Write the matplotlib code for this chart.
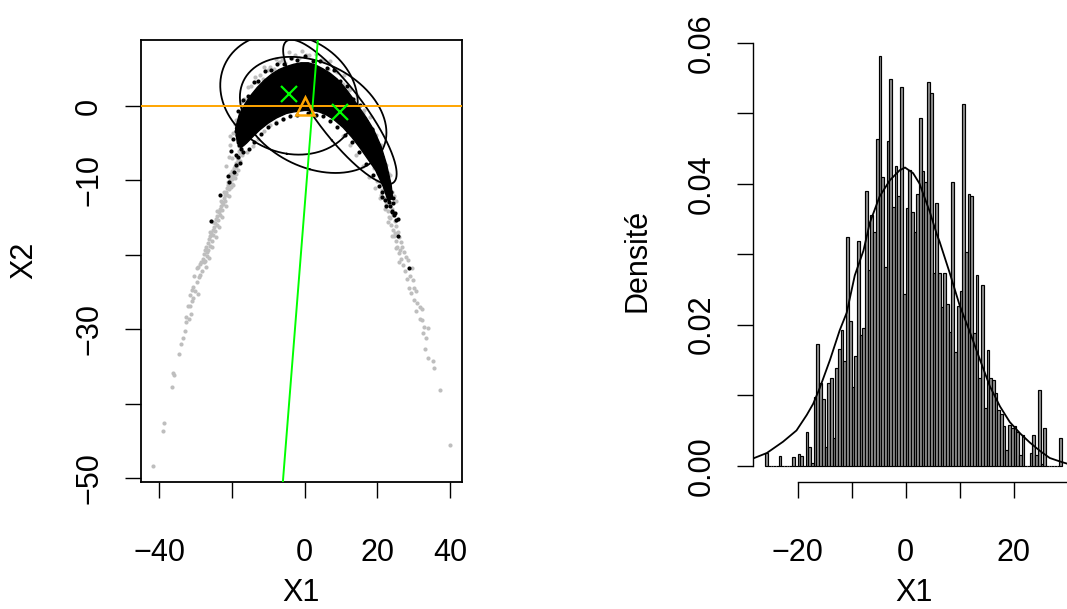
import numpy as np
import matplotlib
matplotlib.use('Agg')
import matplotlib.pyplot as plt

plt.rcParams['font.family'] = ['Liberation Sans', 'DejaVu Sans']
plt.rcParams['axes.unicode_minus'] = True

# ---- banana sample: grey = full chain, black = retained draws ----
# left arm
gray_x1 = [-18.5, -19.0, -19.3, -19.8, -20.2, -20.6, -20.4, -21.0, -21.3, -21.6, -21.2, -22.0, -22.3,
           -22.6, -22.1, -23.0, -23.3, -23.6, -23.1, -24.0, -24.3, -24.6, -24.1, -25.0, -25.3, -25.7,
           -25.2, -26.0, -26.3, -26.6, -26.1, -27.0, -27.3, -26.8, -27.6, -28.0, -27.8, -28.4, -28.8,
           -29.2, -29.7, -30.3, -28.8, -30.6, -31.1, -31.5, -30.8, -32.2, -31.5, -32.5, -31.3, -32.7,
           -33.4, -36.3, -35.8, -36.6, -38.7, -39.0, -41.8,
           -17.0, -17.4, -17.8, -18.2, -18.6, -17.6, -18.0, -18.9, -19.5, -19.9, -20.1, -19.2, -18.4,
           -16.6, -17.1, -16.9, -17.6, -17.3, -18.1, -18.4, -17.9, -18.7, -19.2, -18.9, -19.6, -20.0,
           -20.3, -19.8, -20.8, -21.4, -20.9, -21.8, -22.4, -21.7, -22.8, -23.2, -22.6, -23.8, -24.2,
           -23.6, -24.7, -25.1, -24.5, -25.6, -25.9, -25.4, -26.5, -26.9, -26.2, -27.4, -27.1, -28.2,
           -29.0, -29.6, -30.1, -29.4, -30.9, -31.8, -32.9, -33.9, -34.6,
           -19.6, -20.4, -19.1, -20.9, -21.6, -19.9, -20.6, -18.8]
gray_x2 = [-6.8, -7.6, -8.3, -8.9, -9.6, -10.0, -9.2, -10.6, -11.0, -11.5, -10.2, -12.0, -12.4,
           -12.9, -11.6, -13.4, -13.8, -14.3, -12.8, -14.8, -15.2, -15.7, -14.1, -16.2, -16.6, -17.0,
           -15.6, -17.4, -17.9, -18.4, -16.9, -18.9, -19.3, -19.6, -19.9, -20.5, -21.0, -21.0, -21.2,
           -21.6, -21.8, -22.9, -22.7, -24.3, -24.7, -25.4, -25.8, -26.9, -26.9, -28.3, -27.9, -29.0,
           -31.1, -35.9, -36.1, -37.7, -42.6, -43.6, -48.3,
           -5.0, -5.6, -6.3, -7.0, -7.6, -4.8, -5.4, -8.2, -9.0, -9.8, -10.5, -9.7, -8.6,
           -3.9, -4.3, -5.1, -5.9, -6.6, -6.1, -7.2, -7.4, -7.9, -8.0, -9.1, -9.4, -8.7,
           -10.9, -10.6, -11.2, -11.9, -12.1, -12.7, -13.2, -13.5, -14.0, -14.6, -14.9, -15.3, -16.0,
           -16.2, -16.8, -17.3, -17.6, -18.1, -18.8, -19.0, -19.4, -20.2, -20.4, -20.8, -21.6, -22.1,
           -23.0, -23.6, -24.9, -25.3, -26.2, -28.6, -30.2, -32.0, -33.3,
           -3.6, -5.3, -2.4, -6.8, -8.1, -7.0, -4.1, -1.9]
# right arm
gray_x1 += [20.5, 21.0, 21.5, 22.0, 22.5, 23.0, 22.3, 23.5, 23.9, 24.3, 23.6, 24.8, 25.2, 25.6, 24.9,
            26.0, 26.4, 26.9, 26.2, 27.4, 27.8, 28.5, 29.4, 29.1, 29.9, 30.0, 30.6, 31.7, 32.4, 32.2,
            32.8, 34.0, 33.3, 34.0, 35.4, 35.5, 37.2, 39.9,
            17.5, 18.0, 18.6, 19.2, 19.0, 19.8, 20.2, 20.0, 20.9, 21.4, 21.0, 21.9, 22.4, 22.0, 22.9,
            23.3, 22.9, 23.8, 24.2, 24.0, 24.7, 25.1, 25.5, 25.0, 26.0, 26.5, 26.0, 27.0, 27.5, 28.2,
            28.6, 29.3, 30.0, 31.0, 30.5, 31.6, 32.5, 33.2]
gray_x2 += [-8.4, -9.3, -10.0, -10.8, -11.6, -12.3, -12.9, -13.1, -13.8, -14.6, -15.0, -15.4, -16.1,
            -16.9, -17.0, -17.6, -18.3, -19.0, -19.4, -19.6, -20.3, -20.7, -21.8, -22.9, -23.4, -24.5,
            -24.9, -27.0, -27.3, -28.7, -29.7, -29.8, -31.2, -33.8, -34.3, -35.2, -38.2, -45.5,
            -5.2, -6.0, -6.7, -7.4, -8.3, -8.2, -9.0, -10.1, -10.4, -11.3, -12.0, -12.4, -13.3, -13.8,
            -14.1, -14.9, -15.6, -16.0, -16.6, -17.5, -17.4, -18.2, -19.0, -19.1, -19.8, -20.6, -20.9,
            -21.4, -22.2, -23.2, -24.4, -25.1, -26.0, -26.4, -27.6, -28.6, -30.5, -32.6]
# halo round the dense core
gray_x1 += [-17.5, -16.8, -15.6, -14.8, -13.6, -12.4, -11.2, -9.6, -8.0, -6.2, -4.4, -2.6, -0.8, 1.2,
            3.2, 5.2, 7.0, 9.0, 10.8, 12.6, 14.4, 16.2, 17.9, 19.6, 21.0, 22.4, 23.6, 24.6, 25.0,
            -18.6, -15.8, -14.2, -12.8, -11.2, -9.6, -8.0, -6.0, 10.6, 12.4, 14.2, 16.0, 17.8, 19.4,
            20.6, -16.5, -15.5, -14.2, -13.0, -11.5, -10.0, -8.5, -7.0, -5.5, -3.5, -1.5, 0.5, 2.5,
            4.5, 6.5, 8.5, 10.5, 12.3, 14.2, 16.0, 17.8, 19.6, 21.3, 22.8, 24.0]
gray_x2 += [0.6, 1.0, 2.6, 2.7, 3.9, 4.1, 5.3, 5.3, 6.3, 6.2, 7.2, 6.8, 7.4, 6.9,
            7.0, 6.1, 6.1, 4.6, 4.2, 2.3, 1.5, -0.6, -1.5, -3.9, -5.3, -7.9, -9.3, -12.1, -12.7,
            -4.2, -6.2, -5.4, -4.4, -3.4, -2.6, -2.2, -1.8, -4.0, -5.3, -6.6, -8.0, -9.6, -11.0,
            -12.4, -0.3, 1.1, 1.6, 3.2, 3.6, 4.8, 5.0, 5.9, 5.8, 6.5, 6.4, 6.8, 6.1,
            6.2, 5.0, 4.7, 2.9, 2.1, -0.1, -0.9, -3.2, -4.7, -7.5, -9.0, -11.5]

black_x1 = [-20.8, -23.3, -25.8, -18.3, -19.0, -17.5, -18.8, -17.9,
            21.2, 21.2, 23.4, 23.9, 24.8, 25.7, 25.7, 28.8, 22.6, 23.0, 24.2,
            22.5, 24.0, 24.6, 25.1,
            -18.2, -17.0, -15.6, -14.0, -12.8, -11.0, -9.2, -7.6, -5.8, -3.8, -2.0, 0.0, 2.2, 4.2,
            6.2, 8.0, 9.8, 11.6, 13.4, 15.2, 16.8, 18.4, 20.0, 21.4, 22.6, 23.8, 23.2, 24.4,
            -19.0, -18.0, -17.0, -15.4, -14.0, -12.0, -10.0, -8.0, -6.0, -4.0, -2.0, 1.0, 3.0, 5.0,
            7.0, 9.0, 11.0, 13.0, 15.0, 17.0, 18.8, 20.4, 22.0,
            -19.8, -20.3, -19.4, -21.1, -18.6]
black_x2 = [-10.2, -12.0, -15.5, -6.9, -7.9, -5.8, -6.6, -7.7,
            -11.5, -12.2, -13.5, -14.2, -14.4, -15.2, -17.5, -21.7, -10.9, -12.0, -13.0,
            -13.4, -14.1, -14.7, -15.3,
            -0.7, 0.8, 1.3, 3.2, 3.4, 4.7, 4.8, 5.7, 5.7, 6.4, 6.2, 6.7, 6.1, 6.1,
            5.1, 4.8, 3.4, 2.7, 0.9, 0.1, -2.0, -3.1, -5.4, -6.9, -9.6, -11.5, -12.9, -12.4,
            -3.3, -5.2, -6.2, -5.8, -4.9, -3.8, -2.8, -2.3, -1.7, -1.4, -1.2, -1.0, -1.2, -1.4,
            -2.0, -2.8, -3.9, -4.8, -6.2, -7.8, -9.3, -10.8, -12.6,
            -4.4, -6.1, -8.9, -9.4, -3.9]

# outline of the solid black core of the retained draws
core_x1 = [-19.0, -18.0, -16.5, -15.0, -13.0, -11.0, -9.0, -7.0, -5.0, -3.0, -1.0, 1.0, 3.0, 5.0,
           7.0, 9.0, 11.0, 13.0, 15.0, 17.0, 19.0, 21.0, 22.5, 23.8, 24.2,
           23.0, 21.6, 19.5, 17.5, 15.2, 13.0, 10.6, 8.0, 6.0, 4.0, 2.0, 0.0, -3.0, -5.0, -7.7,
           -10.0, -12.3, -14.0, -16.0, -17.5, -18.5]
core_x2 = [-3.0, -1.2, 0.2, 1.3, 2.5, 3.5, 4.3, 4.9, 5.3, 5.6, 5.8, 5.8, 5.5, 5.0,
           4.4, 3.6, 2.5, 1.2, -0.2, -1.6, -3.2, -5.4, -7.8, -10.6, -12.4,
           -12.8, -10.8, -8.6, -7.2, -5.6, -4.2, -2.9, -1.8, -1.2, -0.8, -0.6, -0.6, -0.8, -1.0, -1.6,
           -2.3, -3.2, -4.0, -5.0, -5.6, -5.0]

# component ellipses (two local components and the overall one)
centres = [(-4.3, 1.6), (2.35, -1.2), (9.7, -0.8)]
covs = [[[357.4, -22.0], [-22.0, 66.2]],
        [[406.0, -48.0], [-48.0, 60.8]],
        [[243.7, -129.4], [-129.4, 94.05]]]
comp_means_x1 = [-4.3, 9.7]
comp_means_x2 = [1.6, -0.8]
overall_mean = (0.0, 0.0)
axis_point = (2.2, 0.0)
axis_slope = 6.17

# ---- histogram of X1 ----
bin_left = -26.0
bin_width = 0.5
dens = [0.0018, 0, 0, 0, 0, 0.0014, 0, 0, 0, 0, 0.0013, 0, 0.0016, 0.0014, 0, 0.0048,
        0.0026, 0.0004, 0.0098, 0.0173, 0.0117, 0.0094, 0.0026, 0.0118, 0.0125, 0.0040, 0.0139,
        0.0166, 0.0192, 0.0148, 0.0325, 0.0205, 0.0112, 0.0155, 0.0319, 0.0186, 0.0195, 0.0389,
        0.0278, 0.0355, 0.0332, 0.0463, 0.0581, 0.0409, 0.0282, 0.0461, 0.0549, 0.0367, 0.0425,
        0.0383, 0.0537, 0.0244, 0.0365, 0.0420, 0.0360, 0.0332, 0.0386, 0.0493, 0.0418, 0.0403,
        0.0545, 0.0529, 0.0273, 0.0373, 0.0273, 0.0225, 0.0274, 0.0230, 0.0190, 0.0403, 0.0162,
        0.0226, 0.0248, 0.0513, 0.0303, 0.0386, 0.0382, 0.0188, 0.0270, 0.0124, 0.0256, 0.0082,
        0.0164, 0.0124, 0.0121, 0.0103, 0.0079, 0.0074, 0.0056, 0.0022, 0.0058, 0.0053, 0.0056,
        0.0048, 0.0015, 0.0044, 0, 0, 0.0018, 0.0044, 0.0015, 0.0108, 0.0003, 0.0054, 0, 0, 0, 0,
        0, 0.0039]
curve_x = [-28.2, -25.7, -22.7, -20.2, -18.3, -17.1, -15.9, -14.0, -12.2, -10.9, -9.4, -7.8,
           -6.6, -4.8, -2.9, -1.1, -0.1, 1.4, 2.6, 3.3, 4.5, 5.8, 6.3, 8.2, 10.0, 10.9, 11.9, 13.8,
           15.6, 17.5, 19.3, 21.2, 23.0, 24.9, 26.7, 28.6, 29.9, 31.2]
curve_y = [0.00104, 0.0018, 0.0034, 0.0050, 0.0072, 0.0088, 0.0110, 0.0150, 0.0192, 0.0217,
           0.0270, 0.0305, 0.0345, 0.0382, 0.0405, 0.0419, 0.0423, 0.0415, 0.0400, 0.0385,
           0.0360, 0.0328, 0.0318, 0.0273, 0.0228, 0.0210, 0.0190, 0.0150, 0.0113, 0.0084,
           0.0062, 0.0046, 0.0033, 0.0021, 0.0011, 0.0006, 0.0003, 0.0002]

W, H = 1067, 609
FS = 22
fig = plt.figure(figsize=(W / 100, H / 100), dpi=100)


def rect(left, right, top, bottom):
    return [left / W, 1 - bottom / H, (right - left) / W, (bottom - top) / H]


def draw_ellipse(ax, centre, cov):
    vals, vecs = np.linalg.eigh(np.array(cov))
    t = np.linspace(0, 2 * np.pi, 300)
    pts = vecs @ (np.sqrt(vals)[:, None] * np.vstack([np.cos(t), np.sin(t)]))
    ax.plot(centre[0] + pts[0], centre[1] + pts[1], color='black', lw=1.3, zorder=4)


def style_axis(ax):
    ax.tick_params(direction='out', length=11.5, width=1.0, labelsize=FS, color='black')
    ax.tick_params(axis='x', pad=29)
    ax.tick_params(axis='y', pad=15, labelrotation=90)
    for lab in ax.get_yticklabels():
        lab.set_va('center')


# ---- left panel: scatter ----
ax1 = fig.add_axes(rect(141, 461.7, 39.7, 482))
ax1.plot(gray_x1, gray_x2, 'o', color='#BEBEBE', ms=3.0, mew=0, zorder=1)
ax1.fill(core_x1, core_x2, color='black', lw=1.0, zorder=2)
ax1.plot(black_x1, black_x2, 'o', color='black', ms=3.0, mew=0, zorder=3)
for c, s in zip(centres, covs):
    draw_ellipse(ax1, c, s)
ax1.axhline(0, color='orange', lw=1.4, zorder=5)
ax1.axline(axis_point, slope=axis_slope, color='#00FF00', lw=1.4, zorder=5)
ax1.plot(comp_means_x1, comp_means_x2, 'x', color='#00FF00', ms=11, mew=1.6, zorder=6)
ax1.plot(*overall_mean, '^', mfc='none', mec='orange', ms=13, mew=1.8, zorder=6)
ax1.set_xlim(-45.0, 43.2)
ax1.set_ylim(-50.5, 8.9)
ax1.set_xticks([-40, -20, 0, 20, 40])
ax1.set_xticklabels(['\u221240', '', '0', '20', '40'])
ax1.set_yticks([0, -10, -20, -30, -40, -50])
ax1.set_yticklabels(['0', '\u221210', '', '\u221230', '', '\u221250'])
for sp in ax1.spines.values():
    sp.set_linewidth(1.3)
style_axis(ax1)
ax1.text(0.5, (482 - 593) / 442.3, 'X1', transform=ax1.transAxes, ha='center', va='center',
         fontsize=FS)
ax1.text((24 - 141) / 320.7, 0.5, 'X2', transform=ax1.transAxes, ha='center', va='center',
         rotation=90, fontsize=FS)

# ---- right panel: histogram ----
ax2 = fig.add_axes(rect(753.3, 1074, 39.7, 482))
lefts = [bin_left + bin_width * i for i in range(len(dens))]
ax2.bar(lefts, dens, width=bin_width, align='edge', facecolor='#909090', edgecolor='black',
        linewidth=0.85, zorder=2)
ax2.plot(curve_x, curve_y, color='black', lw=1.3, zorder=3)
ax2.set_xlim(-28.2, 31.2)
ax2.set_ylim(-0.00231, 0.06043)
ax2.set_xticks([-20, -10, 0, 10, 20, 30])
ax2.set_xticklabels(['\u221220', '', '0', '', '20', ''])
ax2.set_yticks([0, 0.01, 0.02, 0.03, 0.04, 0.05, 0.06])
ax2.set_yticklabels(['0.00', '', '0.02', '', '0.04', '', '0.06'])
for side in ['top', 'right']:
    ax2.spines[side].set_visible(False)
ax2.spines['bottom'].set_bounds(-20, 30)
ax2.spines['left'].set_bounds(0, 0.06)
for side in ['bottom', 'left']:
    ax2.spines[side].set_linewidth(1.0)
style_axis(ax2)
ax2.text(0.5, (482 - 593) / 442.3, 'X1', transform=ax2.transAxes, ha='center', va='center',
         fontsize=FS)
ax2.text((637 - 753.3) / 320.7, 0.5, 'Densité', transform=ax2.transAxes, ha='center',
         va='center', rotation=90, fontsize=FS)

fig.savefig('out.png', dpi=100)
